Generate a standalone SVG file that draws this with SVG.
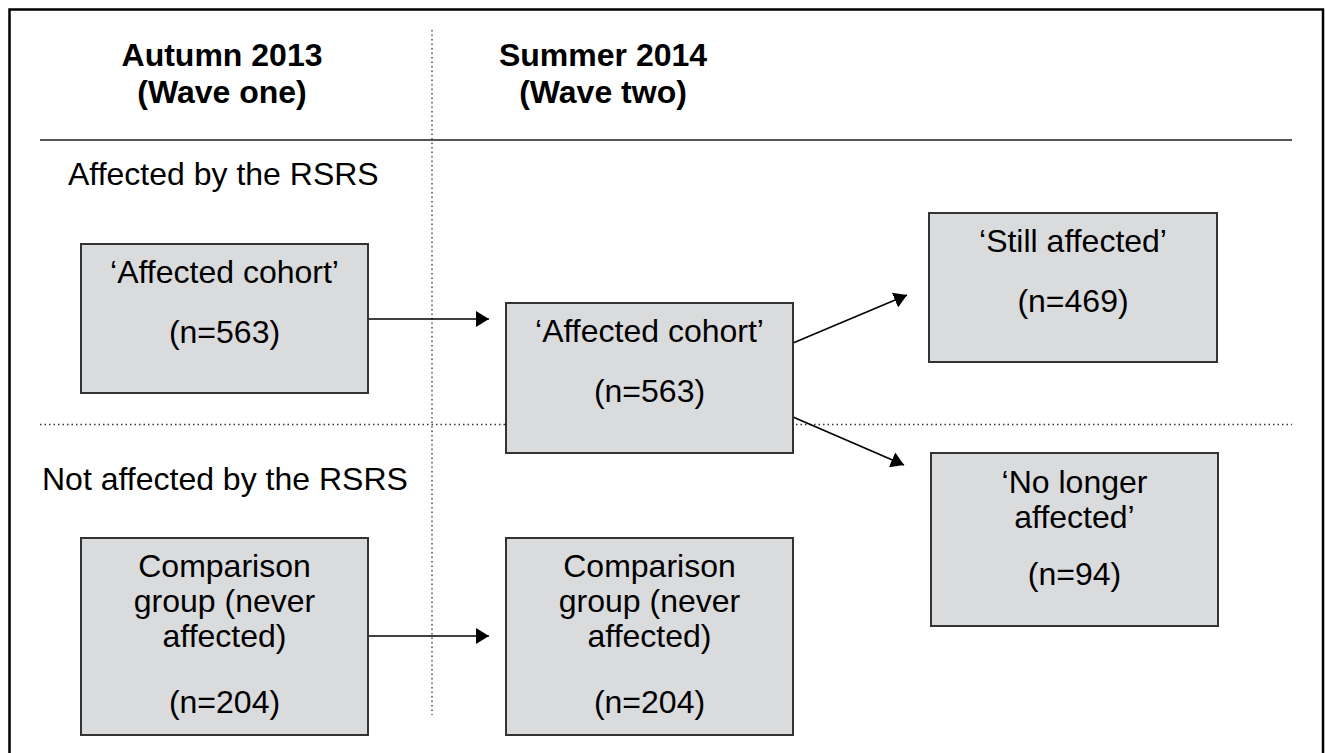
<svg xmlns="http://www.w3.org/2000/svg" width="1325" height="753" viewBox="0 0 1325 753">
<defs>
<style>
.t{font-family:"Liberation Sans",Arial,sans-serif;font-size:32px;fill:#000}
.h{font-family:"Liberation Sans",Arial,sans-serif;font-size:32px;font-weight:bold;fill:#000}
.box{fill:#dadbdd;stroke:#333;stroke-width:2}
.dot{stroke:#333;stroke-width:1.3;stroke-dasharray:1.5 3;fill:none}
.conn{stroke:#000;stroke-width:1.6;fill:none;marker-end:url(#ah)}
</style>
<marker id="ah" viewBox="0 0 13 16" refX="13" refY="8" markerWidth="13" markerHeight="16" markerUnits="userSpaceOnUse" orient="auto">
<path d="M0,0 L13,8 L0,16 Z" fill="#000"/>
</marker>
</defs>
<rect x="0" y="0" width="1325" height="753" fill="#fff"/>
<rect x="9.5" y="9.5" width="1313.5" height="760" fill="none" stroke="#000" stroke-width="2.5"/>
<g id="frame">
<line x1="40" y1="140" x2="1292" y2="140" stroke="#555" stroke-width="2"/>
<line class="dot" x1="432" y1="30" x2="432" y2="715"/>
<line class="dot" x1="40" y1="424.5" x2="1292" y2="424.5"/>
<text class="h" x="222" y="66" text-anchor="middle">Autumn 2013</text>
<text class="h" x="222" y="103" text-anchor="middle">(Wave one)</text>
<text class="h" x="603" y="66" text-anchor="middle">Summer 2014</text>
<text class="h" x="603" y="103" text-anchor="middle">(Wave two)</text>
<text class="t" x="68" y="185">Affected by the RSRS</text>
<text class="t" x="42" y="490">Not affected by the RSRS</text>
</g>
<g id="connectors">
<line class="conn" x1="368" y1="319" x2="489" y2="319"/>
<line class="conn" x1="793" y1="343" x2="907" y2="295"/>
<line class="conn" x1="793" y1="417" x2="904" y2="465"/>
<line class="conn" x1="368" y1="636" x2="489" y2="636"/>
</g>
<g id="n1">
<rect class="box" x="81" y="244" width="287" height="149"/>
<text class="t" x="224.5" y="283" text-anchor="middle">‘Affected cohort’</text>
<text class="t" x="224.5" y="343" text-anchor="middle">(n=563)</text>
</g>
<g id="n2">
<rect class="box" x="506" y="303" width="287" height="150"/>
<text class="t" x="649.5" y="342" text-anchor="middle">‘Affected cohort’</text>
<text class="t" x="649.5" y="402" text-anchor="middle">(n=563)</text>
</g>
<g id="n3">
<rect class="box" x="929" y="213" width="288" height="149"/>
<text class="t" x="1073" y="252" text-anchor="middle">‘Still affected’</text>
<text class="t" x="1073" y="312" text-anchor="middle">(n=469)</text>
</g>
<g id="n4">
<rect class="box" x="931" y="453" width="287" height="173"/>
<text class="t" x="1074.5" y="493" text-anchor="middle">‘No longer</text>
<text class="t" x="1074.5" y="528" text-anchor="middle">affected’</text>
<text class="t" x="1074.5" y="585" text-anchor="middle">(n=94)</text>
</g>
<g id="n5">
<rect class="box" x="81" y="538" width="287" height="197"/>
<text class="t" x="224.5" y="577" text-anchor="middle">Comparison</text>
<text class="t" x="224.5" y="612" text-anchor="middle">group (never</text>
<text class="t" x="224.5" y="647" text-anchor="middle">affected)</text>
<text class="t" x="224.5" y="713" text-anchor="middle">(n=204)</text>
</g>
<g id="n6">
<rect class="box" x="506" y="538" width="287" height="197"/>
<text class="t" x="649.5" y="577" text-anchor="middle">Comparison</text>
<text class="t" x="649.5" y="612" text-anchor="middle">group (never</text>
<text class="t" x="649.5" y="647" text-anchor="middle">affected)</text>
<text class="t" x="649.5" y="713" text-anchor="middle">(n=204)</text>
</g>
</svg>
